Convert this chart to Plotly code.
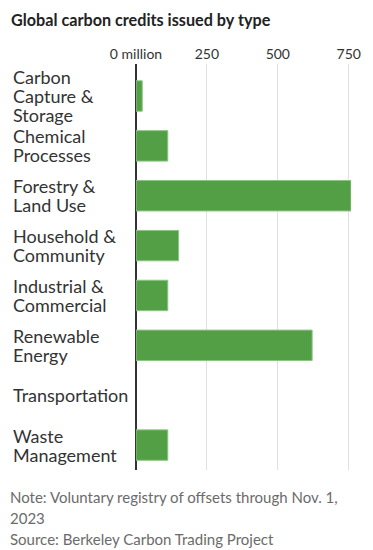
import plotly.graph_objects as go

categories = ["Carbon<br>Capture &<br>Storage", "Chemical<br>Processes", "Forestry &<br>Land Use",
              "Household &<br>Community", "Industrial &<br>Commercial", "Renewable<br>Energy",
              "Transportation", "Waste<br>Management"]
values = [22, 112, 758, 150, 112, 621, 0, 112]
tick_vals = [0, 250, 500, 750]
tick_text = ["0 million", "250", "500", "750"]
title = "Global carbon credits issued by type"
notes = ["Note: Voluntary registry of offsets through Nov. 1,", "2023", "Source: Berkeley Carbon Trading Project"]

W, H = 373, 550
ML, MR, MT, MB = 135.5, 19, 64, 80
pw = W - ML - MR
ph = H - MT - MB

fig = go.Figure(go.Bar(
    y=categories, x=values, orientation="h",
    marker=dict(color="#529f46",
                line=dict(color="#8cc583", width=[1 if v > 0 else 0 for v in values])),
    width=0.61, hoverinfo="skip",
))

def px_x(p):
    return (p - ML) / pw

def px_y(p):
    return 1 - (p - MT) / ph

LINE = 19
anns = []
for c in categories:
    parts = c.split("<br>")
    n = len(parts)
    for i, part in enumerate(parts):
        anns.append(dict(text=part, x=px_x(8.5), xref="paper", y=c, yref="y", xanchor="left",
                         yanchor="middle", align="left", showarrow=False,
                         yshift=((n - 1) / 2 - i) * LINE,
                         font=dict(family="Lato", size=18, color="#333333")))
anns.append(dict(text="<b>" + title + "</b>", x=px_x(6.5), y=px_y(20), xref="paper", yref="paper",
                 xanchor="left", yanchor="middle", showarrow=False,
                 font=dict(family="Lato", size=16.2, color="#222222")))
for i, n in enumerate(notes):
    anns.append(dict(text=n, x=px_x(5.5), y=px_y(497 + i * 21), xref="paper", yref="paper",
                     xanchor="left", yanchor="middle", showarrow=False,
                     font=dict(family="Lato", size=15, color="#6b6b6b")))

fig.update_layout(
    width=W, height=H,
    margin=dict(l=ML, r=MR, t=MT, b=MB),
    paper_bgcolor="white", plot_bgcolor="white",
    showlegend=False,
    annotations=anns,
    xaxis=dict(side="top", range=[0, 758], tickvals=tick_vals, ticktext=tick_text,
               showgrid=True, gridcolor="#e0e0e0", gridwidth=1,
               zeroline=True, zerolinecolor="#333333", zerolinewidth=1.5,
               tickfont=dict(family="Lato", size=14, color="#333333"),
               ticks="", ticklabelstandoff=1, fixedrange=True),
    yaxis=dict(autorange="reversed", showticklabels=False, showgrid=False,
               zeroline=False, ticks="", fixedrange=True),
)

fig.write_html("out.html", config={"displayModeBar": False},
               post_script="document.body.style.margin='0';document.body.style.overflow='hidden';")
